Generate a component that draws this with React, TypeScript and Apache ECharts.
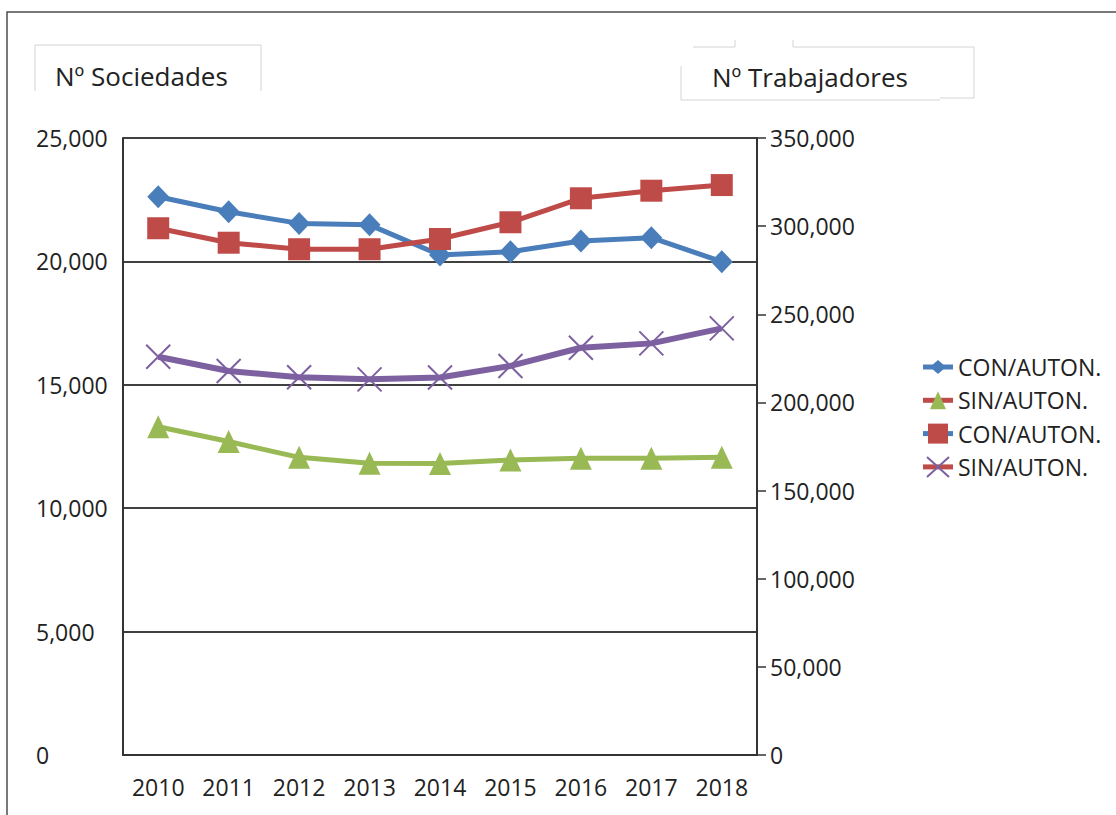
import React, { useEffect, useRef } from "react";
import * as echarts from "echarts";

const years = ["2010", "2011", "2012", "2013", "2014", "2015", "2016", "2017", "2018"];
// Nº Sociedades (left axis)
const sociedadesCon = [22620, 22010, 21540, 21480, 20260, 20390, 20830, 20960, 19990];
const sociedadesSin = [13300, 12700, 12060, 11820, 11810, 11950, 12020, 12020, 12060];
// Nº Trabajadores (right axis)
const trabajadoresCon = [298800, 290600, 286900, 286900, 292700, 302200, 315800, 320100, 323300];
const trabajadoresSin = [225900, 217800, 214300, 213100, 214100, 220700, 231000, 233500, 242000];

const legendNames = ["CON/AUTON.", "SIN/AUTON.", "CON/AUTON.", "SIN/AUTON."];
const titleLeft = "Nº Sociedades";
const titleRight = "Nº Trabajadores";

const BLUE = "#4a7ebb";
const RED = "#be4b48";
const GREEN = "#98b954";
const PURPLE = "#7d60a0";
const FONT = "'Open Sans', 'Noto Sans', sans-serif";
const TXT = "#222222";

const fmt = (v: number) => Number(v).toLocaleString("en-US");

export default function App() {
  const ref = useRef<HTMLDivElement>(null);
  useEffect(() => {
    if (!ref.current) return;
    const chart = echarts.init(ref.current, undefined, { renderer: "svg" });

    const legendLineColors = [BLUE, RED, BLUE, RED];
    const lx1 = 923, lx2 = 953, mx = 938, tx = 958;
    const legendGraphics: any[] = [];
    legendNames.forEach((name, i) => {
      const y = 367 + i * 33.3;
      legendGraphics.push({
        type: "line",
        shape: { x1: lx1, y1: y, x2: lx2, y2: y },
        style: { stroke: legendLineColors[i], lineWidth: 5 },
      });
      if (i === 0) {
        legendGraphics.push({
          type: "polygon",
          shape: { points: [[mx - 8, y], [mx, y - 7], [mx + 8, y], [mx, y + 7]] },
          style: { fill: BLUE },
        });
      } else if (i === 1) {
        legendGraphics.push({
          type: "polygon",
          shape: { points: [[mx - 8, y + 9], [mx, y - 9], [mx + 8, y + 9]] },
          style: { fill: GREEN },
        });
      } else if (i === 2) {
        legendGraphics.push({
          type: "rect",
          shape: { x: mx - 10, y: y - 10, width: 20, height: 20 },
          style: { fill: RED },
        });
      } else {
        legendGraphics.push({
          type: "line",
          shape: { x1: mx - 11, y1: y - 10, x2: mx + 11, y2: y + 10 },
          style: { stroke: PURPLE, lineWidth: 2 },
        });
        legendGraphics.push({
          type: "line",
          shape: { x1: mx - 11, y1: y + 10, x2: mx + 11, y2: y - 10 },
          style: { stroke: PURPLE, lineWidth: 2 },
        });
      }
      legendGraphics.push({
        type: "text",
        x: tx,
        y: y,
        style: {
          text: name,
          fill: TXT,
          fontSize: 23,
          fontFamily: FONT,
          verticalAlign: "middle",
          align: "left",
        },
      });
    });

    const option: any = {
      animation: false,
      backgroundColor: "#ffffff",
      grid: { left: 123, right: 359, top: 138, bottom: 60 },
      xAxis: {
        type: "category",
        data: years,
        boundaryGap: true,
        axisLine: { show: true, lineStyle: { color: "#333333", width: 2 } },
        axisTick: { show: false },
        axisLabel: { color: TXT, fontSize: 23, fontFamily: FONT, margin: 20 },
        splitLine: { show: false },
      },
      yAxis: [
        {
          type: "value",
          position: "left",
          min: 0,
          max: 25000,
          interval: 5000,
          axisLine: { show: true, lineStyle: { color: "#333333", width: 2 } },
          axisTick: { show: false },
          axisLabel: {
            color: TXT,
            fontSize: 23,
            fontFamily: FONT,
            align: "left",
            margin: 87,
            formatter: (v: number) => fmt(v),
          },
          splitLine: { show: true, lineStyle: { color: "#404040", width: 2 } },
        },
        {
          type: "value",
          position: "right",
          min: 0,
          max: 350000,
          interval: 50000,
          axisLine: { show: true, lineStyle: { color: "#333333", width: 2 } },
          axisTick: { show: true, length: 9, lineStyle: { color: "#333333", width: 1.5 } },
          axisLabel: {
            color: TXT,
            fontSize: 23,
            fontFamily: FONT,
            margin: 13,
            formatter: (v: number) => fmt(v),
          },
          splitLine: { show: false },
        },
      ],
      series: [
        {
          name: legendNames[0],
          type: "line",
          yAxisIndex: 0,
          data: sociedadesCon,
          symbol: "diamond",
          symbolSize: [22, 23],
          lineStyle: { color: BLUE, width: 5 },
          itemStyle: { color: BLUE },
          z: 2,
        },
        {
          name: legendNames[1],
          type: "line",
          yAxisIndex: 0,
          data: sociedadesSin,
          symbol: "triangle",
          symbolSize: [22, 23],
          lineStyle: { color: GREEN, width: 5 },
          itemStyle: { color: GREEN },
          z: 3,
        },
        {
          name: legendNames[2],
          type: "line",
          yAxisIndex: 1,
          data: trabajadoresCon,
          symbol: "rect",
          symbolSize: 22,
          lineStyle: { color: RED, width: 5 },
          itemStyle: { color: RED },
          z: 4,
        },
        {
          name: legendNames[3],
          type: "line",
          yAxisIndex: 1,
          data: trabajadoresSin,
          symbol: "path://M0,0L10,10M10,0L0,10",
          symbolSize: 24,
          lineStyle: { color: PURPLE, width: 6 },
          itemStyle: { color: PURPLE, borderColor: PURPLE, borderWidth: 2 },
          z: 5,
        },
      ],
      graphic: [
        {
          type: "polyline",
          shape: { points: [[7, 815], [7, 12], [1116, 12]] },
          style: { stroke: "#4d4d4d", lineWidth: 1.5, fill: null },
        },
        {
          type: "polyline",
          shape: { points: [[35, 91], [35, 45], [261, 45], [261, 91]] },
          style: { stroke: "#d4d4d4", lineWidth: 1, fill: null },
        },
        {
          type: "text",
          x: 55,
          y: 76,
          style: { text: titleLeft, fill: TXT, fontSize: 26, fontFamily: FONT, verticalAlign: "middle" },
        },
        {
          type: "polyline",
          shape: { points: [[693, 47], [735, 47], [735, 40]] },
          style: { stroke: "#d4d4d4", lineWidth: 1, fill: null },
        },
        {
          type: "polyline",
          shape: { points: [[793, 40], [793, 47], [974, 47], [974, 98], [940, 98]] },
          style: { stroke: "#d4d4d4", lineWidth: 1, fill: null },
        },
        {
          type: "polyline",
          shape: { points: [[681, 66], [681, 100], [940, 100]] },
          style: { stroke: "#d4d4d4", lineWidth: 1, fill: null },
        },
        {
          type: "text",
          x: 712,
          y: 77,
          style: { text: titleRight, fill: TXT, fontSize: 26, fontFamily: FONT, verticalAlign: "middle" },
        },
        ...legendGraphics,
      ],
    };
    chart.setOption(option);
    return () => chart.dispose();
  }, []);

  return (
    <div
      ref={ref}
      style={{ position: "absolute", left: 0, top: 0, width: 1116, height: 815, background: "#fff" }}
    />
  );
}
